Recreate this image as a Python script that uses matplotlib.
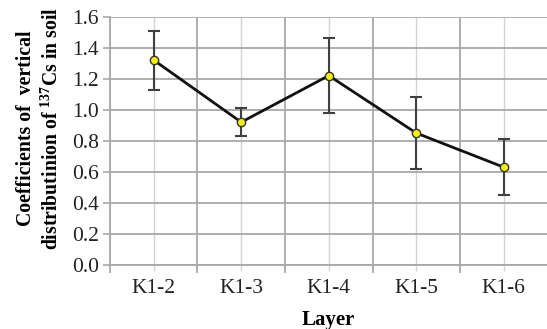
import matplotlib
matplotlib.use("Agg")
import matplotlib.pyplot as plt
import numpy as np

layers = ["K1-2", "K1-3", "K1-4", "K1-5", "K1-6"]
coef = [1.32, 0.92, 1.22, 0.85, 0.63]
err = [0.19, 0.09, 0.24, 0.23, 0.18]
yticks = [0.0, 0.2, 0.4, 0.6, 0.8, 1.0, 1.2, 1.4, 1.6]

plt.rcParams['font.family'] = ['Liberation Serif', 'DejaVu Serif']
plt.rcParams['mathtext.fontset'] = 'custom'
plt.rcParams['mathtext.rm'] = 'Liberation Serif'
plt.rcParams['mathtext.bf'] = 'Liberation Serif:bold'

fig = plt.figure(figsize=(5.47, 3.29), dpi=100)
ax = fig.add_axes([0.201, 0.1945, 0.8, 0.755])

x = np.arange(len(layers))
ax.set_xlim(-0.5, len(layers) - 0.5)
ax.set_ylim(0, 1.6)

# grid
ax.set_yticks(yticks)
ax.set_yticklabels([f"{v:.1f}" for v in yticks])
ax.set_xticks(x)
ax.set_xticklabels(layers)
ax.set_xticks(np.arange(len(layers) + 1) - 0.5, minor=True)
ax.grid(axis='y', which='major', color='#a8a8a8', linewidth=1.3)
ax.grid(axis='x', which='major', color='#d4d4d4', linewidth=1.0)
ax.grid(axis='x', which='minor', color='#a8a8a8', linewidth=1.3)
ax.set_axisbelow(True)

ax.tick_params(axis='y', which='major', direction='out', length=5, width=1.2,
               color='#a8a8a8', labelsize=15.5, pad=3, labelcolor='#222222')
ax.tick_params(axis='x', which='major', length=4, width=1.0, color='#d4d4d4',
               labelsize=15.5, pad=6, labelcolor='#222222')
ax.tick_params(axis='x', which='minor', direction='out', length=6, width=1.3,
               color='#a8a8a8')

for s in ['top', 'right']:
    ax.spines[s].set_visible(False)
ax.spines['left'].set_color('#a8a8a8')
ax.spines['left'].set_linewidth(1.3)
ax.spines['bottom'].set_color('#a8a8a8')
ax.spines['bottom'].set_linewidth(1.3)

ax.errorbar(x, coef, yerr=err, fmt='none', ecolor='#404040', elinewidth=1.5,
            capsize=4, capthick=1.5, zorder=3)
ax.plot(x, coef, color='#111111', linewidth=2.0, marker='o', markersize=6,
        markerfacecolor='#f2f200', markeredgecolor='#333333', markeredgewidth=1.0,
        zorder=4)

ax.set_xlabel("Layer", fontsize=15, fontweight='bold')
ax.xaxis.set_label_coords(0.5, -0.18)
ax.set_ylabel("Coefficients of  vertical\ndistributinion of $^{\\mathbf{137}}$Cs in soil",
              fontsize=14.2, fontweight='bold', linespacing=1.3)
ax.yaxis.set_label_coords(-0.108, 0.55)

fig.savefig("out.png", dpi=100)
